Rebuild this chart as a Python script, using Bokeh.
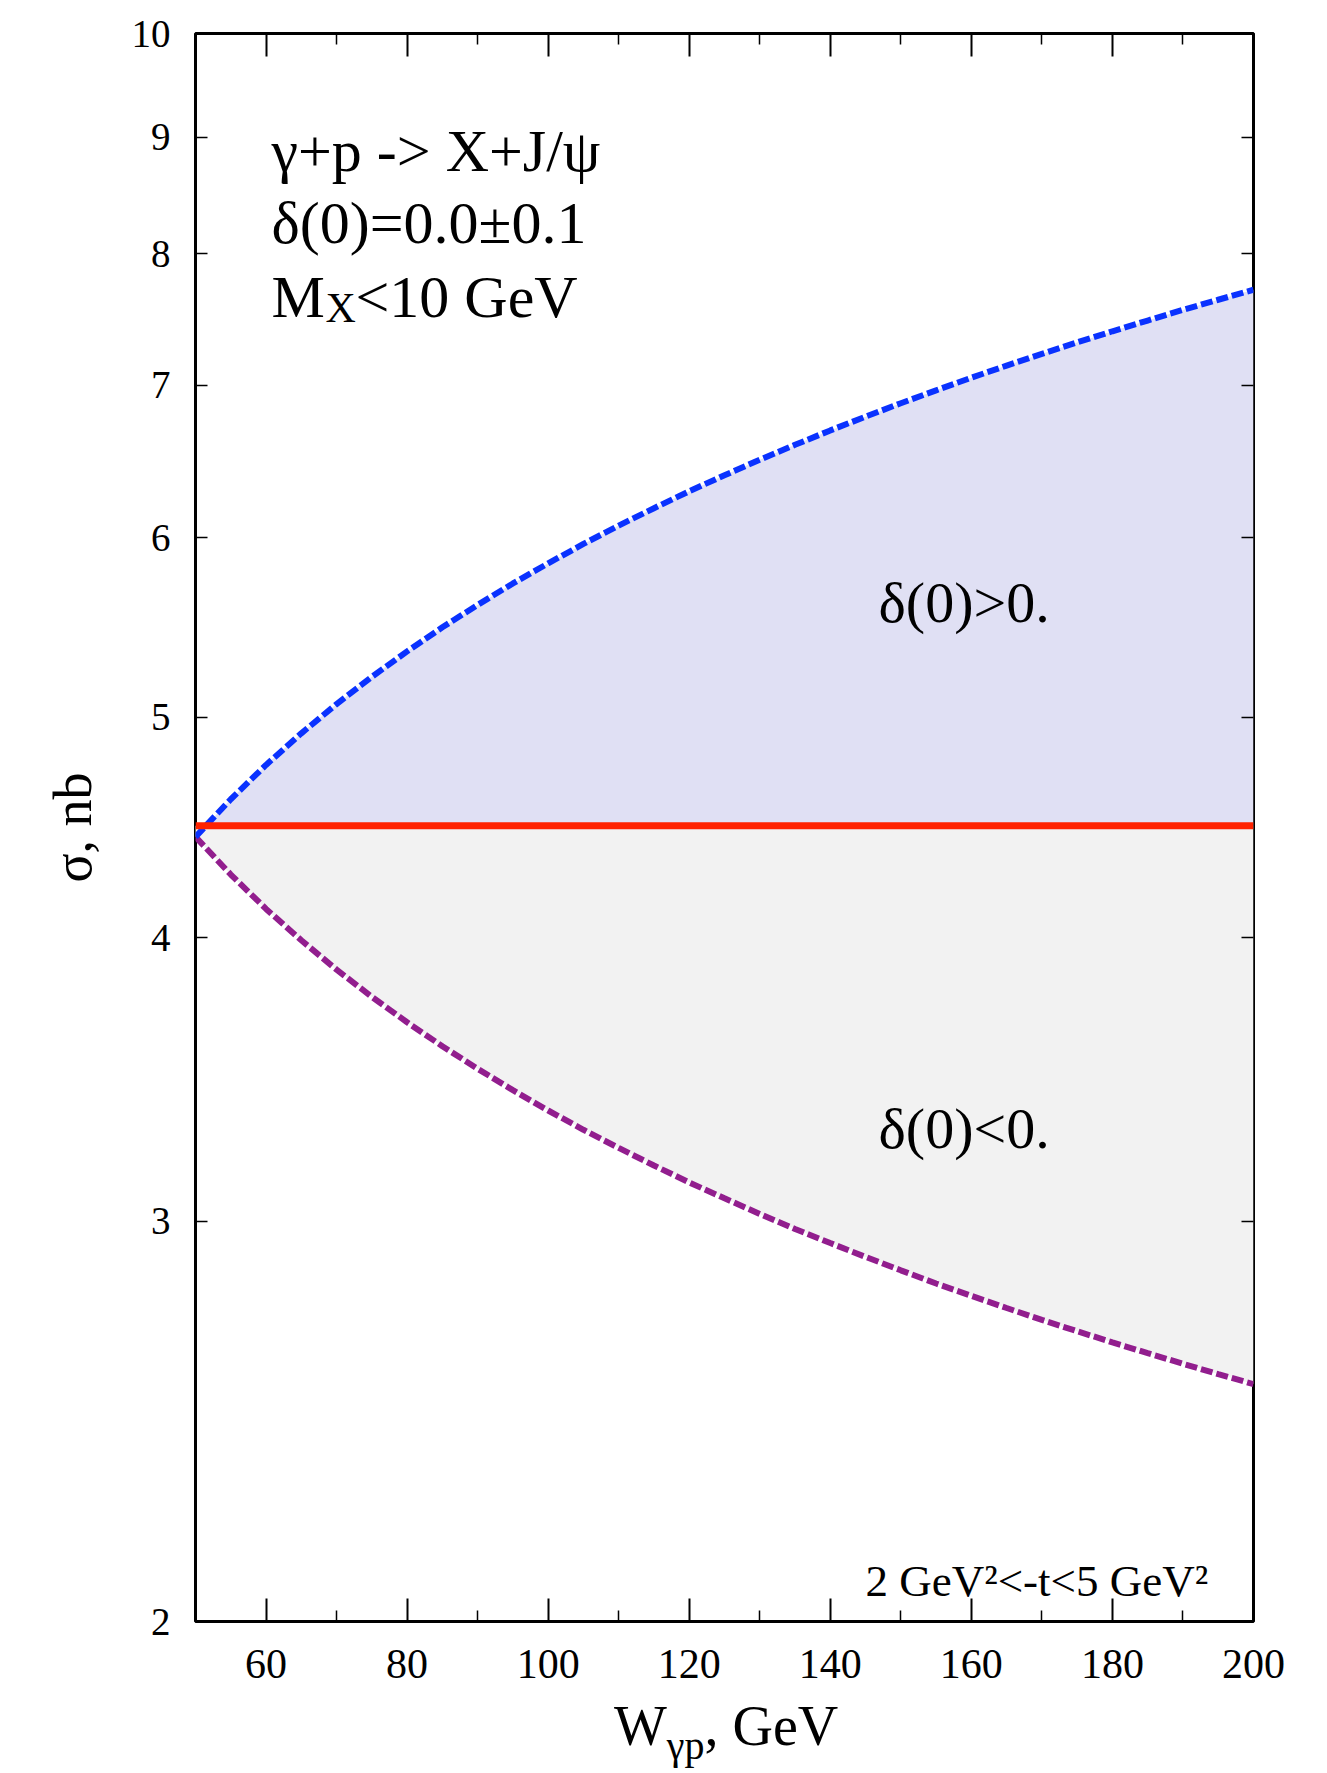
from bokeh.plotting import figure
from bokeh.layouts import column
from bokeh.models import Range1d, FixedTicker, LinearAxis, LogAxis, Label, Div
from bokeh.embed import file_html
from bokeh.resources import INLINE

# ---- data ----
W = [50, 55, 60, 65, 70, 75, 80, 85, 90, 95, 100, 105, 110, 115, 120, 125, 130, 135,
     140, 145, 150, 155, 160, 165, 170, 175, 180, 185, 190, 195, 200]
sigma_pos = [4.430, 4.602, 4.765, 4.920, 5.068, 5.210, 5.346, 5.478, 5.604, 5.727,
             5.845, 5.961, 6.073, 6.181, 6.288, 6.391, 6.492, 6.591, 6.688, 6.782,
             6.875, 6.965, 7.055, 7.142, 7.228, 7.312, 7.395, 7.476, 7.557, 7.635, 7.713]
sigma_neg = [4.430, 4.264, 4.118, 3.989, 3.872, 3.767, 3.671, 3.583, 3.502, 3.427,
             3.357, 3.292, 3.232, 3.175, 3.121, 3.071, 3.023, 2.977, 2.935, 2.894,
             2.855, 2.817, 2.782, 2.748, 2.715, 2.684, 2.654, 2.625, 2.597, 2.570, 2.544]
sigma_zero = 4.48
x_ticks = [60, 80, 100, 120, 140, 160, 180, 200]
x_minor = [50, 70, 90, 110, 130, 150, 170, 190]
y_ticks = [2, 3, 4, 5, 6, 7, 8, 9, 10]

FONT = "Liberation Serif"

p = figure(frame_width=1058, frame_height=1588, x_range=Range1d(50, 200),
           y_range=Range1d(2, 10), y_axis_type="log", output_backend="svg",
           toolbar_location=None, min_border_left=195, min_border_right=74,
           min_border_top=33, min_border_bottom=66)
p.background_fill_color = "white"
p.border_fill_color = "white"
p.xgrid.visible = False
p.ygrid.visible = False
p.outline_line_color = "black"
p.outline_line_width = 3

zero_line = [sigma_zero] * len(W)
p.varea(x=W, y1=zero_line, y2=sigma_pos, fill_color="#e0e0f4")
p.varea(x=W, y1=sigma_neg, y2=zero_line, fill_color="#f2f2f2")
p.line(W, sigma_neg, line_color="#921e8e", line_width=6, line_dash="12 4")
p.line(W, sigma_pos, line_color="#0a32ff", line_width=6, line_dash="12 4")
p.line([W[0], W[-1]], [sigma_zero, sigma_zero], line_color="#ff2200", line_width=7)

xa = p.xaxis[0]
xa.ticker = FixedTicker(ticks=x_ticks, minor_ticks=x_minor)
ya = p.yaxis[0]
ya.ticker = FixedTicker(ticks=y_ticks, minor_ticks=[])

top = LinearAxis(ticker=FixedTicker(ticks=x_ticks, minor_ticks=x_minor))
right = LogAxis(ticker=FixedTicker(ticks=y_ticks, minor_ticks=[]))
p.add_layout(top, "above")
p.add_layout(right, "right")
top.major_label_overrides = {t: "" for t in x_ticks}
right.major_label_overrides = {t: "" for t in y_ticks}

for ax in (xa, top):
    ax.axis_line_color = None
    ax.major_tick_in = 23
    ax.major_tick_out = 0
    ax.minor_tick_in = 11
    ax.minor_tick_out = 0
    ax.major_tick_line_width = 2
    ax.minor_tick_line_width = 1.5
    ax.major_tick_line_color = "black"
    ax.minor_tick_line_color = "black"
for ax in (ya, right):
    ax.axis_line_color = None
    ax.major_tick_in = 12
    ax.major_tick_out = 0
    ax.minor_tick_line_color = None
    ax.major_tick_line_width = 1.5
    ax.major_tick_line_color = "black"
for ax in (top, right):
    ax.major_label_standoff = 0

xa.major_label_text_font = FONT
xa.major_label_text_font_size = "42px"
xa.major_label_text_color = "black"
xa.major_label_standoff = 28
ya.major_label_text_font = FONT
ya.major_label_text_font_size = "39px"
ya.major_label_text_color = "black"
ya.major_label_standoff = 25
ya.axis_label = "σ, nb"
ya.axis_label_text_font = FONT
ya.axis_label_text_font_size = "54px"
ya.axis_label_text_font_style = "normal"
ya.axis_label_text_color = "black"
ya.axis_label_standoff = 26


def lab(x, y, text, size):
    p.add_layout(Label(x=x, y=y, x_units="screen", y_units="screen", text=text,
                       text_font=FONT, text_font_size=size,
                       text_baseline="alphabetic", text_align="left",
                       text_color="black"))


# annotations inside the frame
lab(76, 1471, "γ+p -> X+J/ψ", "60px")
lab(76, 1399, "δ(0)=0.0±0.1", "60px")
lab(76, 1325, "M", "60px")
lab(130, 1314, "X", "42px")
lab(160, 1325, "<10 GeV", "60px")
lab(683, 1019, "δ(0)>0.", "58px")
lab(683, 493, "δ(0)<0.", "58px")
lab(670, 41, "2 GeV²<-t<5 GeV²", "45px")

# x-axis title with a real subscript, as HTML text below the chart
title_html = ('<div style="font-family:\'Liberation Serif\',serif; font-size:56px; '
              'line-height:56px; color:black; white-space:nowrap;">'
              'W<span style="font-size:40px; position:relative; top:14px;">γp</span>'
              ', GeV</div>')
xtitle = Div(text=title_html, width=700, height=60, margin=(11, 0, 0, 614))

layout = column(p, xtitle, spacing=0)
open("out.html", "w").write(file_html(layout, INLINE))
